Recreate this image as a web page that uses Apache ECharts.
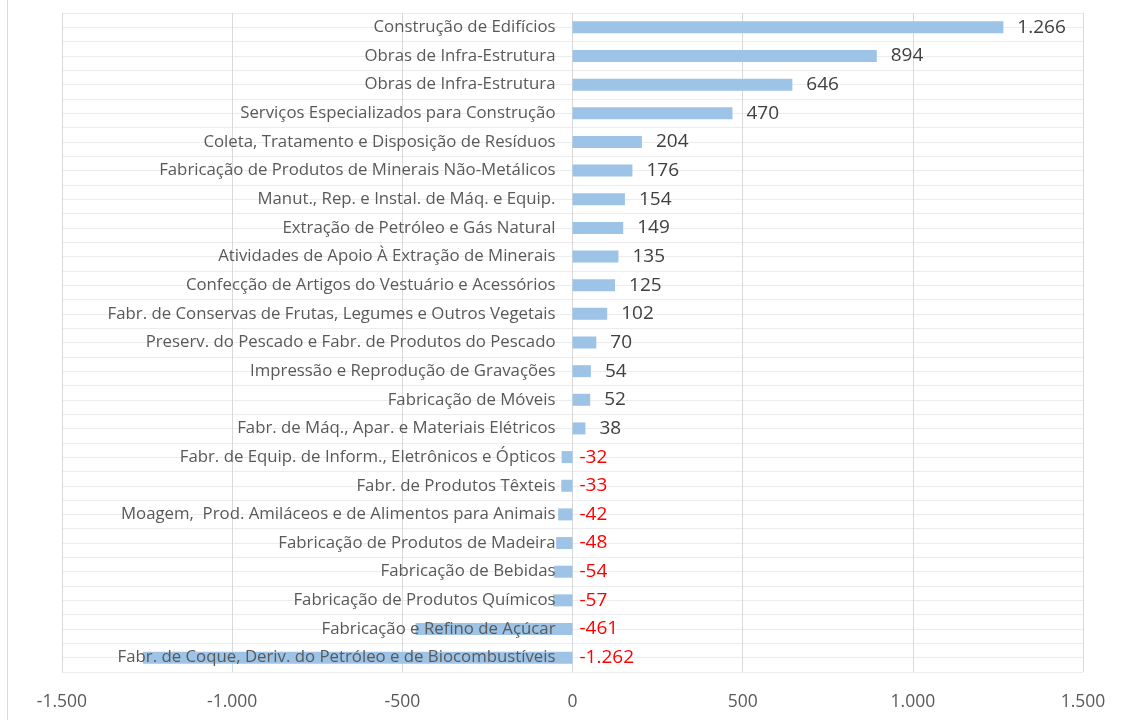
<!DOCTYPE html>
<html>
<head>
<meta charset="utf-8">
<script src="https://cdn.jsdelivr.net/npm/echarts@6/dist/echarts.min.js"></script>
<style>
html,body{margin:0;padding:0;background:#fff;}
#main{width:1124px;height:722px;}
</style>
</head>
<body>
<div id="main"></div>
<script>
// categorias (de cima para baixo)
var categorias = [
	'Construção de Edifícios',
	'Obras de Infra-Estrutura',
	'Obras de Infra-Estrutura',
	'Serviços Especializados para Construção',
	'Coleta, Tratamento e Disposição de Resíduos',
	'Fabricação de Produtos de Minerais Não-Metálicos',
	'Manut., Rep. e Instal. de Máq. e Equip.',
	'Extração de Petróleo e Gás Natural',
	'Atividades de Apoio À Extração de Minerais',
	'Confecção de Artigos do Vestuário e Acessórios',
	'Fabr. de Conservas de Frutas, Legumes e Outros Vegetais',
	'Preserv. do Pescado e Fabr. de Produtos do Pescado',
	'Impressão e Reprodução de Gravações',
	'Fabricação de Móveis',
	'Fabr. de Máq., Apar. e Materiais Elétricos',
	'Fabr. de Equip. de Inform., Eletrônicos e Ópticos',
	'Fabr. de Produtos Têxteis',
	'Moagem,  Prod. Amiláceos e de Alimentos para Animais',
	'Fabricação de Produtos de Madeira',
	'Fabricação de Bebidas',
	'Fabricação de Produtos Químicos',
	'Fabricação e Refino de Açúcar',
	'Fabr. de Coque, Deriv. do Petróleo e de Biocombustíveis'
];
// saldo
var valores = [1266, 894, 646, 470, 204, 176, 154, 149, 135, 125, 102, 70, 54, 52, 38,
	-32, -33, -42, -48, -54, -57, -461, -1262];
// eixo x
var eixoMin = -1500;
var eixoMax = 1500;
var eixoPasso = 500;

// formato 1.266
function fmt(v){
	var s = String(Math.abs(v)).replace(/\B(?=(\d{3})+(?!\d))/g, '.');
	return (v < 0 ? '-' : '') + s;
}

var gridLeft = 62;
var gridRight = 41;
var larguraPlot = 1124 - gridLeft - gridRight;
// desloca o eixo de categorias para o zero
var offsetZero = -larguraPlot * (0 - eixoMin) / (eixoMax - eixoMin);

var chart = echarts.init(document.getElementById('main'));

var dados = [];
for(var i = 0; i < valores.length; i++){
	var v = valores[i];
	dados.push({
		value: v,
		label: {
			color: v < 0 ? '#ff0000' : '#404040',
			distance: v < 0 ? 7 : 14
		}
	});
}

var option = {
	backgroundColor: '#ffffff',
	animation: false,
	grid: {
		left: gridLeft,
		right: gridRight,
		top: 13,
		bottom: 50,
		containLabel: false,
		outerBoundsMode: 'none'
	},
	xAxis: {
		type: 'value',
		min: eixoMin,
		max: eixoMax,
		interval: eixoPasso,
		axisLine: {show: false},
		axisTick: {show: false},
		axisLabel: {
			color: '#595959',
			fontFamily: 'Open Sans',
			fontSize: 17.5,
			margin: 21,
			formatter: fmt
		},
		splitLine: {lineStyle: {color: '#d9d9d9', width: 1}}
	},
	yAxis: [{
		type: 'category',
		data: categorias,
		inverse: true,
		position: 'left',
		offset: offsetZero,
		z: 10,
		axisLine: {show: false, onZero: false},
		axisTick: {show: false},
		splitLine: {show: false},
		axisLabel: {
			color: '#595959',
			fontFamily: 'Open Sans',
			fontSize: 16.8,
			margin: 17
		}
	}, {
		// linhas horizontais a cada meia categoria
		type: 'value',
		min: 0,
		max: categorias.length * 2,
		interval: 1,
		axisLine: {show: false},
		axisTick: {show: false},
		axisLabel: {show: false},
		splitLine: {lineStyle: {color: '#ececec', width: 1}}
	}],
	series: [{
		type: 'bar',
		yAxisIndex: 0,
		data: dados,
		barWidth: 12,
		itemStyle: {color: '#9dc3e6'},
		label: {
			show: true,
			position: 'right',
			fontFamily: 'Open Sans',
			fontSize: 19,
			formatter: function(p){ return fmt(p.value); }
		}
	}],
	graphic: [{
		type: 'line',
		shape: {x1: 7.5, y1: 0, x2: 7.5, y2: 720},
		style: {stroke: '#d9d9d9', lineWidth: 1}
	}]
};
chart.setOption(option);
</script>
</body>
</html>
